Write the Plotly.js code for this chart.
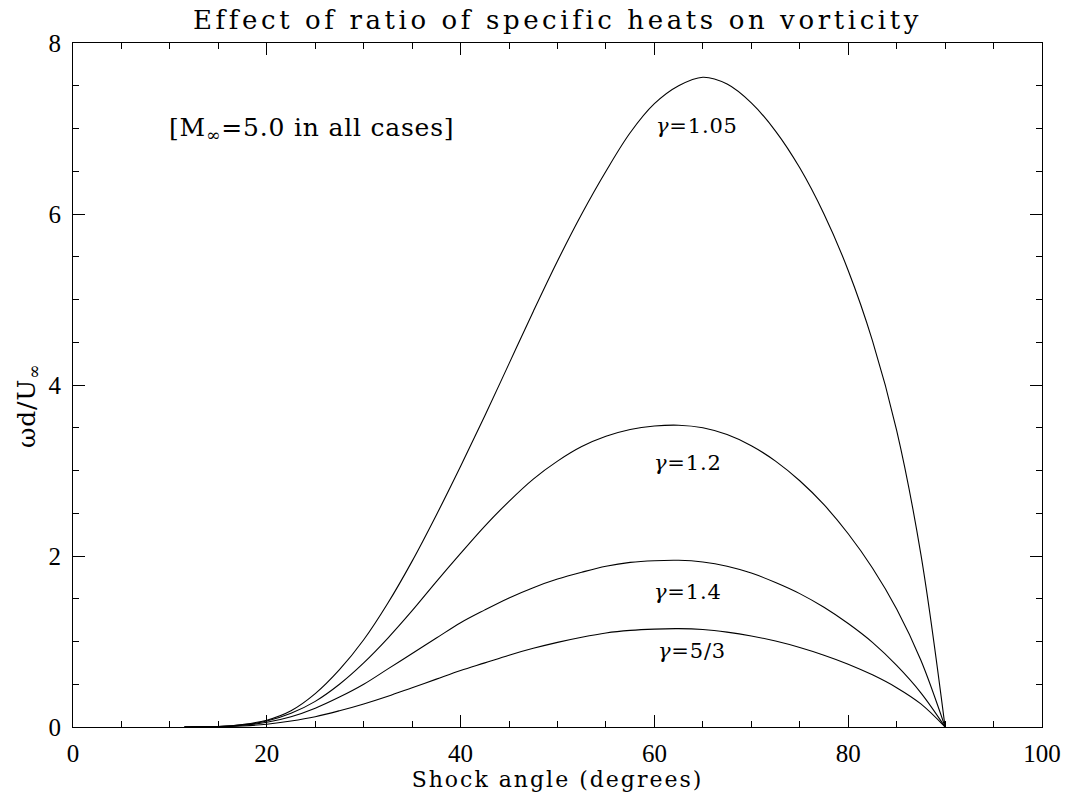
<!DOCTYPE html>
<html>
<head>
<meta charset="utf-8">
<script src="https://cdn.plot.ly/plotly-3.0.1.min.js"></script>
<style>
  html, body { margin: 0; padding: 0; background: #ffffff; }
  #chart { width: 1065px; height: 793px; }
  .gtitle { letter-spacing: 3.6px; }
  .xtitle { letter-spacing: 2px; }
  .annotation-text { letter-spacing: 0.8px; }
</style>
</head>
<body>
<div id="chart"></div>
<script>
// Shock angle (degrees)
const shockAngle = [11.5, 13, 15, 17.5, 20, 22.5, 25, 27.5, 30, 32.5, 35, 37.5, 40, 42.5, 45, 47.5, 50, 52.5, 55, 57.5, 60, 62.5, 65, 67.5, 70, 72.5, 75, 77.5, 80, 82.5, 85, 87.5, 90];

// omega d / U_inf for each ratio of specific heats
const gamma105 = [0, 0.001, 0.006, 0.03, 0.08, 0.19, 0.39, 0.67, 1.02, 1.45, 1.94, 2.48, 3.05, 3.64, 4.25, 4.86, 5.45, 6.0, 6.5, 6.95, 7.29, 7.5, 7.6, 7.52, 7.3, 6.97, 6.54, 6.0, 5.34, 4.52, 3.47, 2.02, 0];
const gamma12  = [0, 0.001, 0.005, 0.025, 0.07, 0.16, 0.3, 0.5, 0.75, 1.04, 1.36, 1.7, 2.03, 2.35, 2.64, 2.9, 3.11, 3.28, 3.4, 3.48, 3.52, 3.53, 3.5, 3.42, 3.29, 3.11, 2.88, 2.6, 2.26, 1.86, 1.38, 0.78, 0];
const gamma14  = [0, 0.001, 0.004, 0.02, 0.055, 0.12, 0.22, 0.35, 0.5, 0.68, 0.86, 1.04, 1.22, 1.37, 1.51, 1.63, 1.73, 1.81, 1.88, 1.925, 1.945, 1.95, 1.93, 1.88, 1.8, 1.69, 1.56, 1.4, 1.21, 0.99, 0.72, 0.4, 0];
const gamma53  = [0, 0.001, 0.003, 0.012, 0.033, 0.07, 0.12, 0.19, 0.27, 0.36, 0.46, 0.56, 0.66, 0.75, 0.84, 0.92, 0.99, 1.05, 1.1, 1.13, 1.145, 1.15, 1.14, 1.11, 1.065, 1.005, 0.93, 0.84, 0.735, 0.61, 0.46, 0.27, 0];

const seriesNames = ['<i>\u03b3</i>=1.05', '<i>\u03b3</i>=1.2', '<i>\u03b3</i>=1.4', '<i>\u03b3</i>=5/3'];
const seriesValues = [gamma105, gamma12, gamma14, gamma53];

// label positions (data coordinates)
const labelX = [64.4, 63.5, 63.5, 63.9];
const labelY = [7.03, 3.09, 1.58, 0.89];

const xTickVals = [0, 20, 40, 60, 80, 100];
const yTickVals = [0, 2, 4, 6, 8];

const FONT = 'DejaVu Serif, Liberation Serif, serif';

const traces = seriesValues.map((vals, i) => ({
  type: 'scatter',
  mode: 'lines',
  x: shockAngle,
  y: vals,
  name: seriesNames[i].replace(/<[^>]+>/g, ''),
  line: { color: '#000000', width: 1.1, shape: 'spline', smoothing: 1 },
  hoverinfo: 'x+y+name'
}));

const annotations = seriesNames.map((t, i) => ({
  x: labelX[i], y: labelY[i], xref: 'x', yref: 'y',
  text: t, showarrow: false,
  font: { family: FONT, size: 21, color: '#000000' },
  xanchor: 'center', yanchor: 'middle'
}));
annotations.push({
  x: 9.7, y: 7.0, xref: 'x', yref: 'y',
  text: '[M<sub>\u221e</sub>=5.0 in all cases]', showarrow: false,
  font: { family: FONT, size: 25, color: '#000000' },
  xanchor: 'left', yanchor: 'middle'
});
// y-axis title, placed as a rotated text
annotations.push({
  x: -0.047, y: 0.47, xref: 'paper', yref: 'paper',
  text: '\u03c9d/U<sub>\u221e</sub>', showarrow: false, textangle: -90,
  font: { family: FONT, size: 25, color: '#000000' },
  xanchor: 'center', yanchor: 'middle'
});

const layout = {
  width: 1065,
  height: 793,
  margin: { l: 73, r: 23, t: 43, b: 66, pad: 0 },
  paper_bgcolor: '#ffffff',
  plot_bgcolor: '#ffffff',
  showlegend: false,
  font: { family: FONT, color: '#000000' },
  title: {
    text: 'Effect of ratio of specific heats on vorticity',
    font: { family: FONT, size: 26, color: '#000000' },
    x: 0.5235, xanchor: 'center',
    y: 0.975, yanchor: 'middle'
  },
  xaxis: {
    range: [0, 100],
    tickvals: xTickVals,
    ticktext: xTickVals.map(String),
    ticks: 'inside', ticklen: 12, tickwidth: 1, tickcolor: '#000000',
    minor: { dtick: 5, ticks: 'inside', ticklen: 6, tickcolor: '#000000', tickwidth: 1, showgrid: false },
    showline: true, linecolor: '#000000', linewidth: 1.2, mirror: 'ticks',
    showgrid: false, zeroline: false,
    tickfont: { family: 'Liberation Serif, serif', size: 25, color: '#000000' },
    ticklabelstandoff: 4,
    title: { text: 'Shock angle (degrees)', font: { family: FONT, size: 22, color: '#000000' }, standoff: 4 }
  },
  yaxis: {
    range: [0, 8],
    tickvals: yTickVals,
    ticktext: yTickVals.map(String),
    ticks: 'inside', ticklen: 12, tickwidth: 1, tickcolor: '#000000',
    minor: { dtick: 0.5, ticks: 'inside', ticklen: 6, tickcolor: '#000000', tickwidth: 1, showgrid: false },
    showline: true, linecolor: '#000000', linewidth: 1.2, mirror: 'ticks',
    showgrid: false, zeroline: false,
    tickfont: { family: 'Liberation Serif, serif', size: 25, color: '#000000' },
    ticklabelstandoff: 6
  },
  annotations: annotations
};

Plotly.newPlot('chart', traces, layout, { displayModeBar: false });
</script>
</body>
</html>
